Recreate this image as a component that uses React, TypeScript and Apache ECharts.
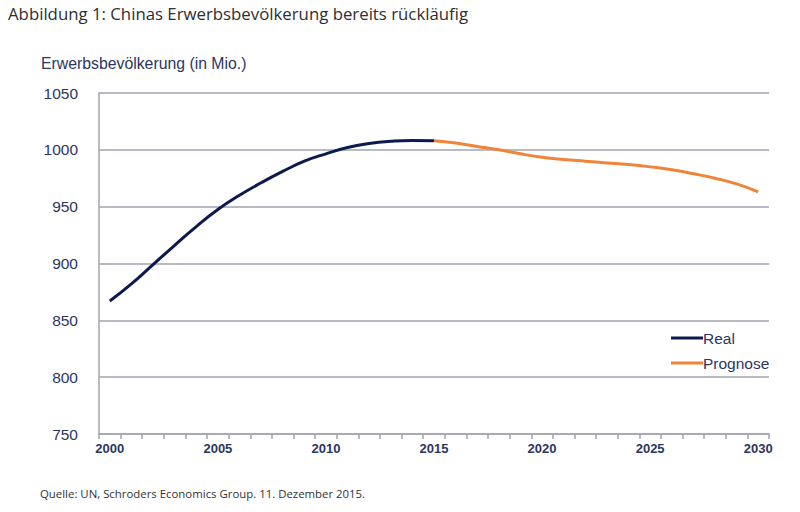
import React, { useEffect, useRef } from "react";
import * as echarts from "echarts";

const years: string[] = [];
for (let y = 2000; y <= 2030; y++) years.push(String(y));

const realValues: (number | null)[] = [
  867, 882, 899, 916, 932.5, 947.5, 960, 971, 981, 990, 996.5, 1002, 1005.5, 1007.5, 1008.3, 1008,
];
const prognoseValues: number[] = [
  1008, 1006, 1003, 1000, 996.5, 993.5, 991.5, 990, 988.5, 987, 985, 982.5, 979, 975, 970, 963,
];

const title = "Abbildung 1: Chinas Erwerbsbevölkerung bereits rückläufig";
const yAxisTitle = "Erwerbsbevölkerung (in Mio.)";
const source = "Quelle: UN, Schroders Economics Group. 11. Dezember 2015.";

const NAVY = "#0c1a4d";
const ORANGE = "#f0843a";
const TEXT = "#2b3661";
const GRID = "#a3a5ae";

export default function App() {
  const ref = useRef<HTMLDivElement>(null);
  useEffect(() => {
    if (!ref.current) return;
    const chart = echarts.init(ref.current, undefined, { renderer: "svg" });
    const realData = years.map((_, i) => (i < realValues.length ? realValues[i] : null));
    const progData = years.map((_, i) => {
      const j = i - (realValues.length - 1);
      return j >= 0 && j < prognoseValues.length ? prognoseValues[j] : null;
    });
    chart.setOption({
      animation: false,
      backgroundColor: "#ffffff",
      textStyle: { fontFamily: "Liberation Sans, Arial, sans-serif" },
      graphic: [
        {
          type: "text",
          left: 8,
          top: 5,
          style: { text: title, fontFamily: "Open Sans", fontSize: 16.8, fill: "#2e2e2e" },
        },
        {
          type: "text",
          left: 41,
          top: 55,
          style: { text: yAxisTitle, fontFamily: "Liberation Sans", fontSize: 15.8, fill: TEXT },
        },
        {
          type: "text",
          left: 40,
          top: 488,
          style: { text: source, fontFamily: "Open Sans", fontSize: 11.4, fill: "#333333" },
        },
      ],
      legend: {
        orient: "vertical",
        left: 666,
        top: 325,
        itemWidth: 32,
        itemHeight: 3,
        itemGap: 9,
        icon: "rect",
        textStyle: { color: TEXT, fontSize: 15.5, fontFamily: "Liberation Sans", padding: [0, 0, 0, -5] },
        data: ["Real", "Prognose"],
      },
      grid: { left: 99, right: 31, top: 93, bottom: 78 },
      xAxis: {
        type: "category",
        data: years,
        boundaryGap: true,
        axisLine: { show: true, lineStyle: { color: GRID, width: 1.5 } },
        axisTick: { show: true, interval: 0, length: 5, lineStyle: { color: GRID, width: 1.5 } },
        axisLabel: {
          interval: 4,
          color: TEXT,
          fontSize: 13,
          fontWeight: "bold",
          fontFamily: "Liberation Sans Narrow, Liberation Sans, Arial",
          margin: 8,
        },
        splitLine: { show: false },
      },
      yAxis: {
        type: "value",
        min: 750,
        max: 1050,
        interval: 50,
        axisLine: { show: true, lineStyle: { color: GRID, width: 1.5 } },
        axisTick: { show: false },
        axisLabel: {
          color: TEXT,
          fontSize: 15.5,
          margin: 21,
          fontFamily: "Liberation Sans",
          formatter: (v: number) => String(v),
        },
        splitLine: { show: true, lineStyle: { color: GRID, width: 1.5 } },
      },
      series: [
        {
          name: "Real",
          type: "line",
          data: realData,
          smooth: 0.5,
          showSymbol: false,
          symbol: "none",
          lineStyle: { color: NAVY, width: 3 },
          itemStyle: { color: NAVY },
          connectNulls: false,
        },
        {
          name: "Prognose",
          type: "line",
          data: progData,
          smooth: 0.5,
          showSymbol: false,
          symbol: "none",
          lineStyle: { color: ORANGE, width: 3 },
          itemStyle: { color: ORANGE },
          connectNulls: false,
        },
      ],
    });
    return () => chart.dispose();
  }, []);
  return <div ref={ref} style={{ width: 800, height: 512, position: "absolute", left: 0, top: 0 }} />;
}
